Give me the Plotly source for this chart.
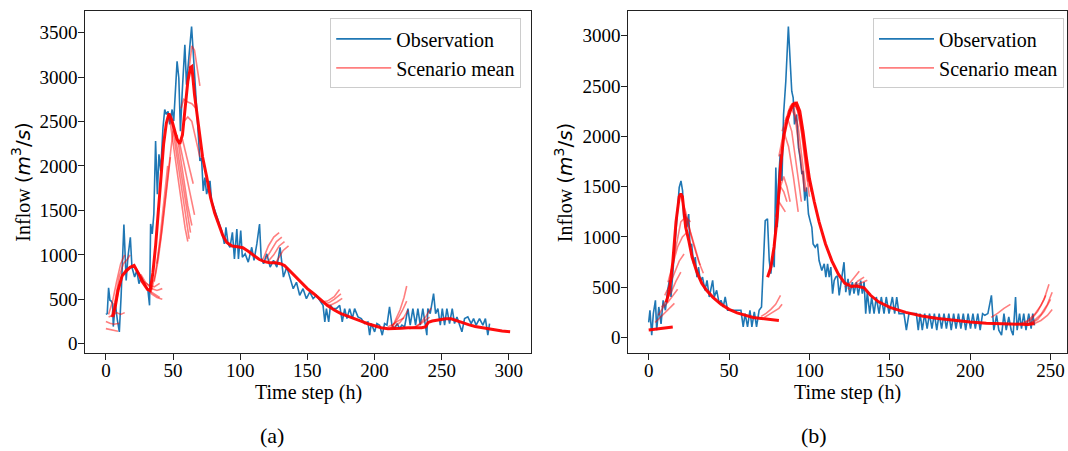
import plotly.graph_objects as go

# ---------------- Panel (a) data ----------------
obs_a_t = [0, 1, 2, 3, 4, 5, 5.5, 7, 8.5, 10, 11.3, 13.4, 15.1, 16.4, 18.2, 19.4, 21.4, 23, 24.6, 26.3,
           28.8, 31.3, 32.5, 33.3, 34.5, 35.7, 37, 38.3, 39.5, 40.8, 42.5, 43.8, 45, 46.3, 47.5, 49.3,
           50.5, 51.8, 53, 54.3, 55.5, 56.8, 58.8, 60, 61.8, 63.8, 65.3, 67, 68.8, 70, 71.2, 72.5, 73.7,
           75, 77.5, 78.7, 81.2, 83.7, 86.2, 88.2, 89.4, 91, 92.4, 94.2, 95.7, 97.5, 98.7, 100.4, 101.6,
           103.7, 106, 108.6, 110.3, 112.4, 114.4, 115.6, 117.4, 119.8, 122.3, 124.8, 127.3, 129.7,
           132.2, 134.7, 137.2, 139.5, 141.9, 144.3, 146.8, 149.3, 151.8, 154.3, 156.7, 159.2, 161.7,
           163, 164.2, 165.9, 167.2, 169.1, 171.6, 174.1, 176, 177.8, 179.5, 181.5, 183.5, 185.2, 187.7,
           190.2, 192.7, 195.1, 196.4, 197.6, 200.1, 201.8, 203.8, 205.8, 207.5, 209.3, 211.2, 213,
           214.9, 216.9, 218.7, 220.4, 222.4, 224.9, 226.6, 228.6, 230.6, 232.3, 234.1, 236, 237.8, 239,
           239.7, 241.5, 244, 245.5, 247.2, 249, 250.5, 252.2, 253.9, 255.9, 257.9, 259.6, 261.4, 263.3,
           265.1, 267.1, 269.5, 272, 273.8, 275.7, 278.2, 280.7, 282.6, 284.4, 285.7]
obs_a_v = [330, 340, 630, 490, 480, 450, 193, 455, 270, 134, 530, 1340, 712, 974, 1198, 860, 750, 825, 675, 750,
           675, 600, 432, 1347, 1235, 1459, 2280, 1683, 2131, 1944, 2430, 2635, 2580, 2615, 2467, 2635,
           2505, 2840, 3176, 2990, 2392, 2820, 3363, 2915, 3214, 3568, 3214, 2803, 2392, 2056, 2090, 1720, 1870,
           1683, 1832, 1608, 1496, 1384, 1272, 1123, 1310, 1123, 1085, 1254, 955, 1291, 955, 1272, 974,
           1011, 918, 1085, 937, 1123, 1347, 974, 900, 1011, 862, 937, 862, 1085,
           750, 862, 740, 619, 692, 545, 619, 507, 582, 507, 545, 489, 432,
           246, 395, 246, 432, 395, 395, 432, 246, 395, 283, 395, 283, 395, 302,
           283, 227, 246, 96, 227, 134, 227, 209, 96, 227, 209, 414, 209,
           171, 227, 171, 209, 190, 395, 209, 395, 209, 395, 209, 395, 209, 96,
           395, 339, 563, 339, 395, 209, 395, 209, 395, 227, 395, 227, 302, 227,
           134, 283, 302, 227, 283, 209, 283, 209, 283, 96, 227]

cons_a_t = [5, 7, 9, 12, 15, 18, 21, 23, 25, 27, 29, 31, 33, 35, 37, 39, 41, 43, 45, 47, 49, 51, 53, 55, 57,
            59, 61, 63, 64, 66, 68, 70, 72, 75, 78, 81, 84, 87, 90, 94, 98, 102, 106, 110, 114, 118, 122,
            126, 130, 133, 137, 140, 145, 150, 155, 160, 165, 170, 175, 180, 185, 190, 195, 200, 205, 210,
            215, 220, 225, 230, 235, 238, 240, 243, 248, 253, 257, 261, 265, 270, 275, 280, 285, 290, 295, 301]
cons_a_v = [300, 420, 600, 760, 820, 860, 880, 830, 770, 700, 650, 610, 600, 800, 1100, 1500, 1900, 2250,
            2480, 2590, 2520, 2400, 2300, 2250, 2350, 2650, 2950, 3110, 3120, 2800, 2560, 2300, 2100, 1880,
            1640, 1470, 1340, 1220, 1140, 1100, 1090, 1080, 1040, 990, 950, 925, 910, 910, 900, 880, 820,
            770, 690, 620, 560, 490, 430, 380, 340, 310, 285, 255, 225, 200, 180, 170, 170, 175, 180, 180,
            180, 190, 240, 255, 270, 280, 280, 260, 235, 215, 195, 180, 165, 152, 143, 135]

seg_a_t = [
    [0, 3, 6, 9], [0, 3, 6, 10], [2, 5, 8, 11, 14], [2, 5, 8, 11, 14], [4, 7, 10, 13, 16, 18],
    [6, 9, 12, 15, 18], [22, 26, 30, 34, 38, 42], [24, 28, 32, 36, 40], [26, 30, 34, 38, 42],
    [28, 32, 36, 40], [34, 37, 40, 43, 46], [36, 39, 42, 45, 48], [38, 41, 44, 47, 50],
    [47, 51, 55, 59, 61], [49, 53, 57, 61, 62], [51, 55, 59, 63], [53, 57, 61, 64], [55, 59, 63, 66],
    [57, 61, 65], [62, 64, 66, 68, 70], [56, 58, 61, 64, 67], [58, 61, 64, 67, 70],
    [117, 121, 125, 129], [119, 123, 127, 131], [121, 125, 129, 133], [126, 129, 132, 136],
    [160, 165, 170, 174], [162, 166, 170, 175], [164, 168, 172, 176],
    [213, 216, 219, 222, 224], [212, 215, 218, 221, 224], [213, 216, 219, 222, 225], [210, 214, 218, 222],
    [230, 234, 238, 242], [226, 230, 234, 238, 241]]
seg_a_v = [
    [170, 160, 150, 140], [250, 230, 220, 230], [300, 320, 350, 330, 350], [330, 480, 700, 900, 1000],
    [300, 500, 760, 900, 950, 1000], [350, 560, 780, 800, 850], [860, 760, 640, 560, 520, 500],
    [800, 700, 600, 560, 520], [780, 680, 620, 600, 620], [700, 660, 640, 680],
    [600, 800, 1150, 1600, 2000], [700, 950, 1300, 1700, 2100], [900, 1200, 1600, 2000, 2400],
    [2580, 2150, 1700, 1300, 1150], [2500, 2100, 1650, 1250, 1180], [2400, 2000, 1600, 1250],
    [2350, 1950, 1550, 1330], [2250, 1950, 1650, 1450], [2300, 2050, 1800],
    [3100, 3350, 3300, 3100, 2900], [2650, 2750, 2720, 2700, 2650], [2500, 2550, 2500, 2300, 2100],
    [950, 1100, 1200, 1250], [950, 1050, 1150, 1200], [930, 1000, 1100, 1150], [900, 980, 1050, 1100],
    [470, 480, 530, 610], [450, 460, 500, 560], [430, 440, 470, 510],
    [180, 280, 380, 520, 650], [180, 230, 300, 380, 480], [170, 200, 240, 300, 380], [190, 220, 260, 290],
    [180, 230, 300, 400], [170, 190, 220, 260, 300]]

# ---------------- Panel (b) data ----------------
obs_b_t = [0, 0.8, 1.9, 2.9, 4.2, 5, 6.3, 7.7, 9, 10.4, 11.8, 12.9, 13.9, 14.9, 16, 17, 18, 19, 20.1, 21.1,
           21.8, 22.8, 23.8, 24.9, 25.7, 26.7, 28, 29, 30, 31, 32.1, 33.5, 35, 36.3, 37.7, 38.7, 39.8,
           40.8, 42.3, 43.9, 45, 46.4, 47.6, 49.1, 51.2, 53.2, 55.3, 57.4, 58.8, 60, 61.5, 63, 64.2, 65.7,
           67.1, 68.7, 70.2, 71.2, 72.5, 73.9, 75, 76, 77, 78.1, 79.1, 80, 80.8, 81.8, 82.9, 83.9, 85.3,
           86.9, 88, 89, 89.9, 90.7, 92, 93.2, 94.2, 95.3, 96, 97.1, 98.2, 99.4, 100.4, 101.5, 102.3,
           103.6, 105, 106, 107.7, 109.2, 110.2, 111.3, 112.3, 113.3, 114.4, 115.4, 116.4, 117.4, 118.5,
           120, 121.5, 122.6, 124, 125, 126.7, 127.7, 129.2, 130.4, 131.9, 132.9, 134, 135, 136, 137.5,
           138.7, 140.2, 141.6, 143.3, 144.7, 146.4, 147.8, 149.5, 151.6, 153, 154.3, 155.7, 158.8,
           160.3, 161.9, 164, 166.5, 167.7, 168.8, 170.2, 171.7, 173.2, 174.7, 176.2, 177.7, 179.2,
           180.7, 182.2, 183.7, 185.2, 186.7, 188.2, 189.7, 191.2, 192.7, 194.2, 195.7, 197.2, 198.7,
           200.2, 201.7, 203.2, 204.7, 206.2, 207.7, 209.1, 211, 213.2, 214.7, 216.4, 217.8, 219.5, 221,
           222.4, 224, 225.5, 226.7, 228.2, 229.2, 230.7, 231.9, 233.3, 234.7, 236.4, 237.9, 238.9, 240]
obs_b_v = [150, 270, 23, 238, 370, 73, 304, 135, 370, 271, 469, 568, 403, 634, 832, 1096, 1360, 1492, 1558, 1459,
           1195, 1228, 1096, 1228, 898, 931, 733, 799, 601, 700, 568, 601, 469, 568, 403, 502, 568,
           403, 469, 337, 370, 304, 403, 271, 271, 271, 271, 271, 106, 238, 106, 271, 106, 254,
           106, 271, 304, 700, 1162, 1180, 766, 634, 799, 700, 1690, 1096, 1558, 1822, 1558, 2218, 2548,
           3092, 2812, 2449, 2383, 2119, 2218, 1888, 1789, 1624, 1657, 1360, 1492, 1228, 1162, 1096, 931,
           898, 931, 766, 667, 733, 601, 733, 601, 700, 436, 568, 601, 614, 419,
           600, 749, 452, 584, 419, 551, 436, 551, 419, 567, 436, 551, 238, 452, 238,
           403, 238, 403, 238, 403, 238, 403, 238, 403, 238, 403, 238, 238,
           73, 238, 238, 238, 73, 238, 73, 238, 89, 238, 89, 238, 73,
           238, 89, 238, 89, 238, 73, 238, 89, 238, 89, 238, 73, 238,
           89, 238, 89, 238, 73, 238, 221, 238, 419, 73, 221, 73, 23, 238,
           73, 205, 73, 23, 403, 73, 238, 89, 238, 73, 238, 89, 238, 122]

cons_b0_t = [0, 5, 10, 15]
cons_b0_v = [75, 85, 95, 105]
cons_b_t = [11, 13, 15, 17, 19, 20, 21, 23, 25, 27, 30, 33, 36, 40, 45, 50, 55, 60, 65, 70, 75, 81]
cons_b_v = [350, 480, 750, 1150, 1400, 1430, 1400, 1100, 960, 800, 650, 540, 470, 400, 330, 280, 245, 220,
            200, 190, 180, 170]
cons_b2_t = [74, 76, 78, 80, 82, 84, 86, 88, 90, 92, 94, 96, 98, 100, 103, 106, 110, 114, 118, 122, 126,
             130, 134, 138, 143, 150, 160, 170, 180, 190, 200, 210, 220, 230, 236, 240]
cons_b2_v = [600, 700, 900, 1200, 1700, 2000, 2150, 2250, 2320, 2330, 2250, 2050, 1800, 1580, 1350, 1150,
             930, 760, 630, 540, 510, 510, 495, 420, 355, 300, 250, 215, 190, 170, 155, 142, 135, 130, 130, 140]

seg_b_t = [
    [4, 7, 10, 13, 16], [6, 9, 12, 15, 18], [8, 11, 14, 17, 20], [10, 13, 16, 19, 22],
    [12, 15, 18, 21, 24], [14, 17, 20, 23, 26], [20, 23, 26, 29, 32], [22, 25, 28, 31, 34],
    [70, 73, 76, 79, 82], [72, 75, 78, 81, 83], [81, 84, 87, 90, 93], [83, 86, 89, 92, 95],
    [85, 88, 91, 94, 97], [87, 90, 93, 96, 99], [79, 81, 83, 85], [78, 80, 82, 84, 86],
    [80, 82, 84, 86, 88], [84, 87, 90, 93, 96, 98], [86, 89, 92, 95, 98, 100], [88, 91, 94, 97, 100],
    [89, 92, 95, 98, 101], [122, 125, 128, 131],
    [124, 127, 130, 134], [126, 129, 132, 136], [213, 217, 221, 225], [234, 238, 242, 246, 249],
    [236, 240, 244, 248, 251], [238, 242, 246, 250], [240, 244, 248, 251], [232, 236, 240, 244, 247]]
seg_b_v = [
    [150, 200, 250, 300, 340], [220, 300, 350, 420, 480], [300, 380, 450, 560, 650],
    [420, 520, 640, 760, 830], [550, 720, 900, 1000, 1050], [650, 900, 1150, 1200, 1150],
    [1400, 1250, 1050, 880, 720], [1250, 1100, 920, 760, 640],
    [210, 240, 280, 330, 420], [200, 230, 260, 290, 330], [1800, 2050, 1900, 1600, 1250],
    [2050, 2200, 2050, 1700, 1350], [2150, 2300, 2200, 1850, 1450], [2250, 2330, 2250, 1950, 1550],
    [1200, 1350, 1300, 1250], [900, 1300, 1500, 1450, 1350], [1300, 1500, 1600, 1500, 1350],
    [2000, 2250, 2300, 2100, 1700, 1450], [2150, 2320, 2300, 2050, 1650, 1400], [2300, 2340, 2200, 1850, 1500],
    [2300, 2300, 2150, 1800, 1450], [500, 540, 600, 660],
    [480, 510, 560, 600], [500, 520, 540, 570], [200, 240, 290, 330], [140, 180, 260, 380, 530],
    [140, 170, 230, 330, 450], [140, 180, 260, 380], [140, 170, 220, 280], [140, 170, 230, 320, 420]]

x_ticks_a = [0, 50, 100, 150, 200, 250, 300]
y_ticks_a = [0, 500, 1000, 1500, 2000, 2500, 3000, 3500]
x_ticks_b = [0, 50, 100, 150, 200, 250]
y_ticks_b = [0, 500, 1000, 1500, 2000, 2500, 3000]

# ---------------- Figure ----------------
W, H = 1068, 451
FONT = "Liberation Serif, Times New Roman, serif"
BLUE = "#1f77b4"
RED_FAINT = "rgba(255,0,0,0.5)"
RED = "rgba(255,0,0,0.95)"

fig = go.Figure()


def add_panel(xa, ya, legend, obs_t, obs_v, cons_list, seg_t, seg_v):
    fig.add_trace(go.Scatter(x=obs_t, y=obs_v, mode="lines", line=dict(color=BLUE, width=1.6),
                             name="Observation", xaxis=xa, yaxis=ya, legend=legend, showlegend=True))
    for i, (st, sv) in enumerate(zip(seg_t, seg_v)):
        fig.add_trace(go.Scatter(x=st, y=sv, mode="lines", line=dict(color=RED_FAINT, width=1.6),
                                 name="Scenario mean", xaxis=xa, yaxis=ya, legend=legend,
                                 showlegend=(i == 0)))
    for ct, cv in cons_list:
        fig.add_trace(go.Scatter(x=ct, y=cv, mode="lines", line=dict(color=RED, width=3),
                                 name="Scenario mean", xaxis=xa, yaxis=ya, showlegend=False))


add_panel("x", "y", "legend", obs_a_t, obs_a_v, [(cons_a_t, cons_a_v)], seg_a_t, seg_a_v)
add_panel("x2", "y2", "legend2", obs_b_t, obs_b_v,
          [(cons_b0_t, cons_b0_v), (cons_b_t, cons_b_v), (cons_b2_t, cons_b2_v)], seg_b_t, seg_b_v)


def px_x(p):
    return p / W


def px_y(p):
    return 1 - p / H


axis_common = dict(showline=True, mirror=True, linecolor="#222222", linewidth=1, ticks="outside",
                   ticklen=6, tickcolor="#222222", showgrid=False, zeroline=False,
                   tickfont=dict(family=FONT, size=19, color="black"))

fig.update_layout(
    width=W, height=H, margin=dict(l=0, r=0, t=0, b=0), plot_bgcolor="white", paper_bgcolor="white",
    xaxis=dict(domain=[px_x(85.3), px_x(531.7)], range=[-15.4, 316.7], tickvals=x_ticks_a, anchor="y",
               ticklabelstandoff=-6, **axis_common),
    yaxis=dict(domain=[px_y(354.3), px_y(10.7)], range=[-101, 3747], tickvals=y_ticks_a, anchor="x",
               ticklabelstandoff=-3, **axis_common),
    xaxis2=dict(domain=[px_x(629), px_x(1067.5)], range=[-12.6, 259.9], tickvals=x_ticks_b, anchor="y2",
                ticklabelstandoff=-6, **axis_common),
    yaxis2=dict(domain=[px_y(354.3), px_y(10.7)], range=[-151, 3250], tickvals=y_ticks_b, anchor="x2",
                ticklabelstandoff=-3, **axis_common),
    legend=dict(x=px_x(521.7), y=px_y(18.5), xanchor="right", yanchor="top", itemwidth=55,
                bgcolor="rgba(255,255,255,0.8)", bordercolor="#cccccc", borderwidth=1,
                font=dict(family=FONT, size=20, color="black"), tracegroupgap=0),
    legend2=dict(x=px_x(1065), y=px_y(18.5), xanchor="right", yanchor="top", itemwidth=55,
                 bgcolor="rgba(255,255,255,0.8)", bordercolor="#cccccc", borderwidth=1,
                 font=dict(family=FONT, size=20, color="black"), tracegroupgap=0),
)

ylab = "Inflow <span style='font-family:DejaVu Sans'>(<i>m</i><sup>3</sup>/<i>s</i>)</span>"
ann = [
    dict(text="Time step (h)", x=px_x(308.5), y=px_y(394), font=dict(size=20)),
    dict(text="Time step (h)", x=px_x(848), y=px_y(394), font=dict(size=20)),
    dict(text="(a)", x=px_x(272), y=px_y(437), font=dict(size=22)),
    dict(text="(b)", x=px_x(815), y=px_y(437), font=dict(size=22)),
    dict(text=ylab, x=px_x(21), y=px_y(182.5), textangle=-90, font=dict(size=20)),
    dict(text=ylab, x=px_x(564), y=px_y(182.5), textangle=-90, font=dict(size=20)),
]
for a in ann:
    a["font"].update(family=FONT, color="black")
    fig.add_annotation(xref="paper", yref="paper", xanchor="center", yanchor="middle", showarrow=False, **a)

fig.write_html("out.html")
